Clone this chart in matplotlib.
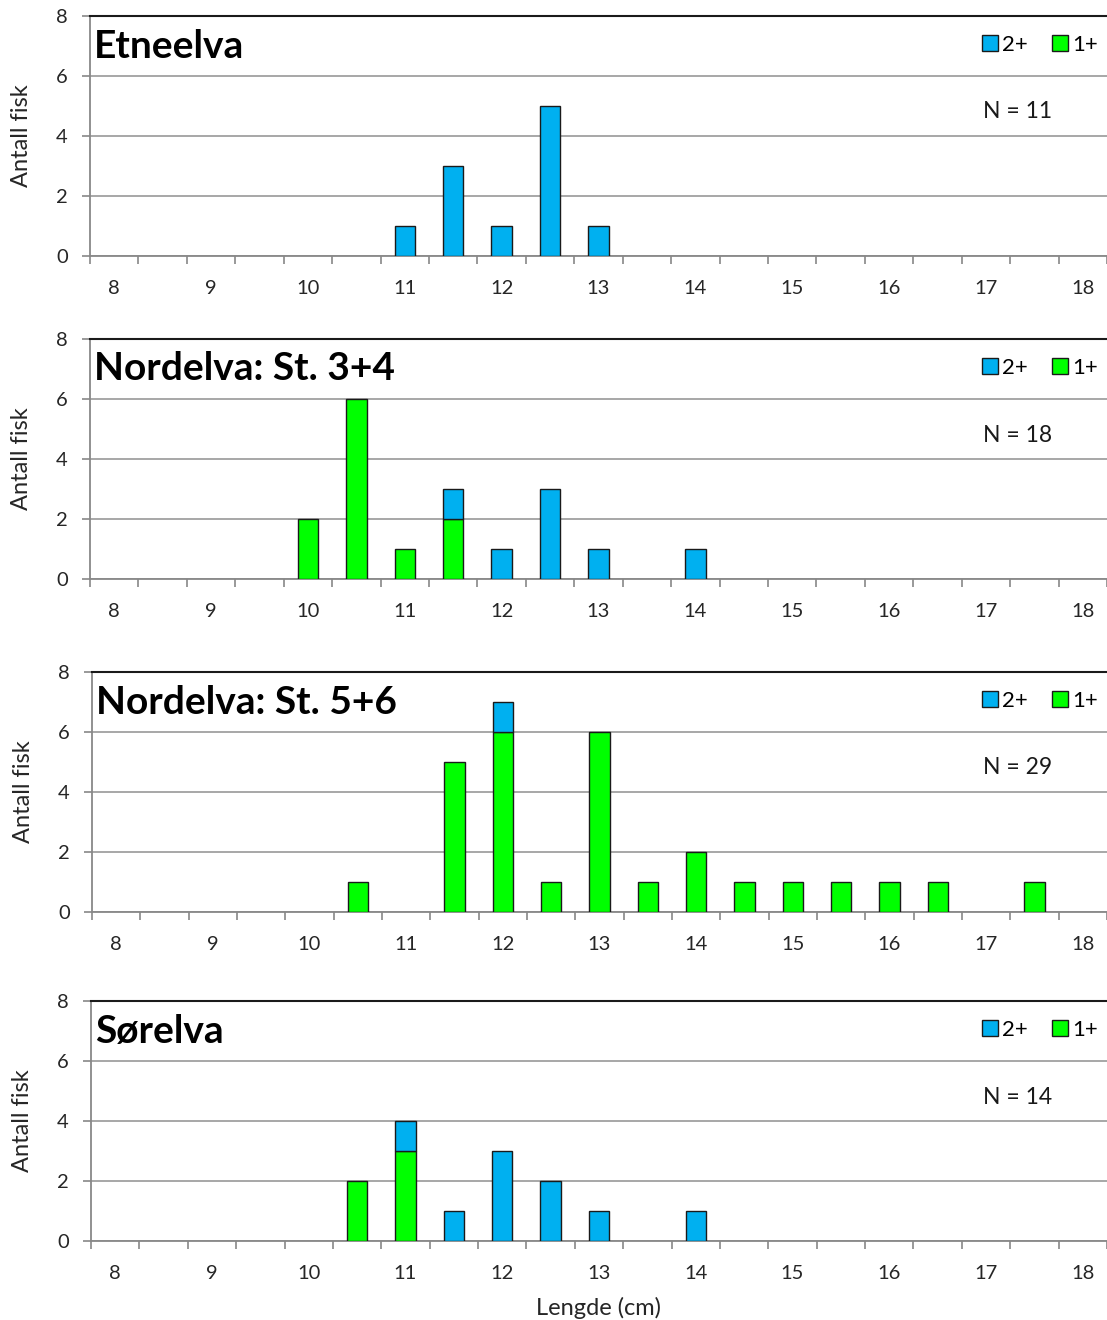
import numpy as np
import matplotlib.pyplot as plt
from matplotlib.patches import Patch

plt.rcParams['font.family'] = ['Lato', 'DejaVu Sans']

# length classes (cm), one bar slot per half centimetre
lengths = [8, 8.5, 9, 9.5, 10, 10.5, 11, 11.5, 12, 12.5, 13,
           13.5, 14, 14.5, 15, 15.5, 16, 16.5, 17, 17.5, 18]

titles = ['Etneelva', 'Nordelva: St. 3+4', 'Nordelva: St. 5+6', 'Sørelva']
n_fish = [11, 18, 29, 14]

# number of fish per length class, 1+ and 2+
etne_1 = [0, 0, 0, 0, 0, 0, 0, 0, 0, 0, 0, 0, 0, 0, 0, 0, 0, 0, 0, 0, 0]
etne_2 = [0, 0, 0, 0, 0, 0, 1, 3, 1, 5, 1, 0, 0, 0, 0, 0, 0, 0, 0, 0, 0]
nord34_1 = [0, 0, 0, 0, 2, 6, 1, 2, 0, 0, 0, 0, 0, 0, 0, 0, 0, 0, 0, 0, 0]
nord34_2 = [0, 0, 0, 0, 0, 0, 0, 1, 1, 3, 1, 0, 1, 0, 0, 0, 0, 0, 0, 0, 0]
nord56_1 = [0, 0, 0, 0, 0, 1, 0, 5, 6, 1, 6, 1, 2, 1, 1, 1, 1, 1, 0, 1, 0]
nord56_2 = [0, 0, 0, 0, 0, 0, 0, 0, 1, 0, 0, 0, 0, 0, 0, 0, 0, 0, 0, 0, 0]
sor_1 = [0, 0, 0, 0, 0, 2, 3, 0, 0, 0, 0, 0, 0, 0, 0, 0, 0, 0, 0, 0, 0]
sor_2 = [0, 0, 0, 0, 0, 0, 1, 1, 3, 2, 1, 0, 1, 0, 0, 0, 0, 0, 0, 0, 0]

ones = [etne_1, nord34_1, nord56_1, sor_1]
twos = [etne_2, nord34_2, nord56_2, sor_2]

c_two = '#00B0F0'
c_one = '#00FF00'
grey = '#a0a0a0'

W, H = 1107, 1320
fig = plt.figure(figsize=(W / 100, H / 100), dpi=100)

# axes boxes in pixels: left, top, bottom
boxes = [(90, 16, 256), (90, 339, 579), (92, 672, 912), (91, 1001, 1241)]

x = np.arange(len(lengths))
for i, (l, t, b) in enumerate(boxes):
    ax = fig.add_axes([l / W, 1 - b / H, (W - l) / W, (b - t) / H])
    one = np.array(ones[i])
    two = np.array(twos[i])
    ax.bar(x, one, width=0.42, color=c_one, edgecolor='#1a1a1a', lw=1.0, zorder=3)
    ax.bar(x, two, width=0.42, bottom=one, color=c_two, edgecolor='#1a1a1a',
           lw=1.0, zorder=3)
    # hide zero-height bars outlines
    for p in ax.patches:
        if p.get_height() == 0:
            p.set_visible(False)

    ax.set_xlim(-0.5, len(lengths) - 0.5)
    ax.set_ylim(0, 8)
    ax.set_yticks([0, 2, 4, 6, 8])
    ax.grid(axis='y', color=grey, lw=1.3, zorder=0)

    major = [k for k, v in enumerate(lengths) if v == int(v)]
    ax.set_xticks(major)
    ax.set_xticklabels([str(int(lengths[k])) for k in major])
    ax.set_xticks(np.arange(len(lengths) + 1) - 0.5, minor=True)
    ax.tick_params(axis='x', which='major', length=0, pad=17, labelsize=14.5,
                   labelcolor='#262626')
    ax.tick_params(axis='x', which='minor', length=6, color='#888888', width=1.2)
    ax.tick_params(axis='y', length=6, color='#888888', width=1.2, pad=10,
                   labelsize=14.5, labelcolor='#262626')

    for s in ['left', 'bottom']:
        ax.spines[s].set_color('#888888')
        ax.spines[s].set_linewidth(1.3)
    ax.spines['top'].set_color('#1a1a1a')
    ax.spines['top'].set_linewidth(1.5)
    ax.spines['right'].set_visible(False)

    ax.set_ylabel('Antall fisk', fontsize=17, color='#262626', labelpad=17)

    ax.text(0.004, 0.875, titles[i], transform=ax.transAxes, fontsize=28,
            fontweight='bold', va='center', ha='left')
    ax.text(0.878, 0.60, f'N = {n_fish[i]}', transform=ax.transAxes,
            fontsize=16.5, va='center', ha='left', color='#1a1a1a')

    handles = [Patch(facecolor=c_two, edgecolor='#1a1a1a', label='2+'),
               Patch(facecolor=c_one, edgecolor='#1a1a1a', label='1+')]
    ax.legend(handles=handles, loc='center right', bbox_to_anchor=(1.0, 0.88),
              ncol=2, frameon=False, fontsize=16, handlelength=0.7,
              handleheight=0.7, handletextpad=0.2, columnspacing=1.1,
              borderaxespad=0.0)

    if i == len(boxes) - 1:
        ax.set_xlabel('Lengde (cm)', fontsize=17, color='#262626', labelpad=11)

fig.savefig('out.png', dpi=100)
